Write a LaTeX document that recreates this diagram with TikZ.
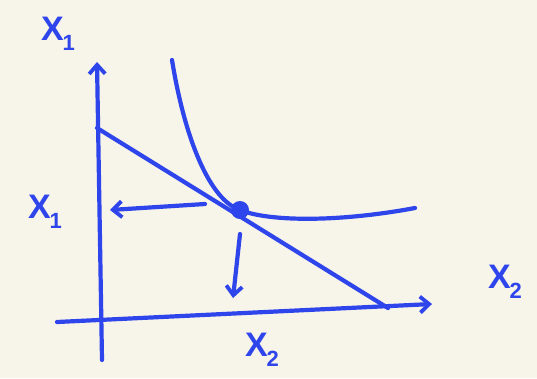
\documentclass[tikz,border=0pt]{standalone}
\usepackage{fontspec}
\setmainfont{Liberation Sans}
\usetikzlibrary{arrows.meta}
\definecolor{ink}{HTML}{2F45EC}
\definecolor{paper}{HTML}{F7F4E9}
\tikzset{
  pen/.style={draw=ink, line width=4.2pt, line cap=round, line join=round},
  penarrow/.style={pen, -{Straight Barb[length=9pt,width=16pt,line width=3.8pt]}},
  lbl/.style={text=ink, font=\bfseries\fontsize{34}{36}\selectfont, inner sep=0pt}
}
\newcommand{\lab}[1]{X\kern-1pt\raisebox{-0.3em}{\fontsize{22}{24}\selectfont #1}}
\begin{document}
\begin{tikzpicture}[x=1pt,y=-1pt]
\fill[paper] (0,0) rectangle (537,378);
\useasboundingbox (0,0) rectangle (537,378);
% axes
\coordinate (ybot) at (102,360);
\coordinate (ytop) at (97,62);
\coordinate (xleft) at (57,322);
\coordinate (xright) at (432,304);
\draw[penarrow] (ybot) -- (ytop);
\draw[penarrow] (xleft) -- (xright);
% budget line
\coordinate (b1) at (97,128);
\coordinate (b2) at (388,308);
\draw[pen] (b1) -- (b2);
% indifference curve
\coordinate (eq) at (240,210);
\draw[pen] (172,60) .. controls (185,140) and (210,200) .. (eq)
  .. controls (270,222) and (340,222) .. (415,208);
\fill[ink] (eq) circle (9);
% arrows
\coordinate (la) at (205,204);
\coordinate (lb) at (110,210);
\draw[penarrow] (la) -- (lb);
\coordinate (da) at (240,234);
\coordinate (db) at (233,298);
\draw[penarrow] (da) -- (db);
% labels
\node[lbl] (t1) at (58,34) {\lab{1}};
\node[lbl] (l1) at (45,212) {\lab{1}};
\node[lbl] (r2) at (505,282) {\lab{2}};
\node[lbl] (b2l) at (262,350) {\lab{2}};
\end{tikzpicture}
\end{document}
